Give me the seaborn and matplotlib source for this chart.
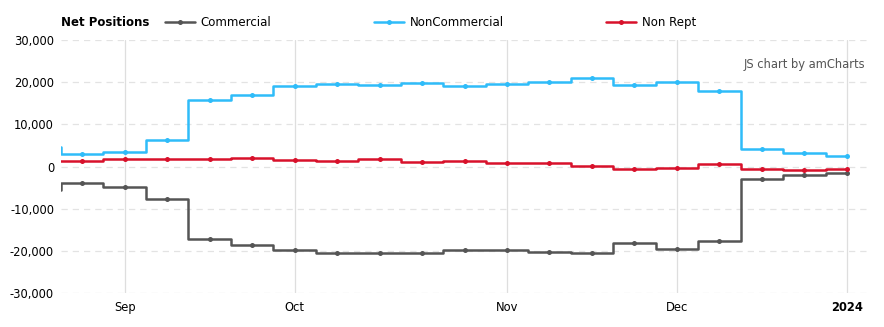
import matplotlib
matplotlib.use("Agg")
import matplotlib.pyplot as plt
import matplotlib.ticker as mticker
import seaborn as sns
import pandas as pd
import numpy as np

# Weekly report dates (first entry is the week before the visible range)
dates = ["2023-08-22", "2023-08-29", "2023-09-05", "2023-09-12", "2023-09-19", "2023-09-26",
         "2023-10-03", "2023-10-10", "2023-10-17", "2023-10-24", "2023-10-31",
         "2023-11-07", "2023-11-14", "2023-11-21", "2023-11-28",
         "2023-12-05", "2023-12-12", "2023-12-19", "2023-12-26", "2024-01-02"]
commercial = [-5600, -3900, -4800, -7700, -17100, -18500, -19900, -20600, -20600, -20400,
              -19900, -19900, -20200, -20600, -18100, -19500, -17700, -2900, -1900, -1500]
noncommercial = [4600, 2900, 3400, 6300, 15800, 17000, 19100, 19600, 19400, 19900,
                 19100, 19600, 20000, 21000, 19400, 20000, 17900, 4100, 3200, 2500]
nonrept = [1200, 1200, 1700, 1700, 1700, 2000, 1500, 1300, 1700, 1000,
           1300, 800, 800, 200, -600, -400, 600, -600, -800, -650]

series_names = ["Commercial", "NonCommercial", "Non Rept"]
series_colors = ["#555555", "#2fbcf9", "#d8112b"]

month_labels = ["Sep", "Oct", "Nov", "Dec", "2024"]
month_dates = ["2023-09-05", "2023-10-03", "2023-11-07", "2023-12-05", "2024-01-02"]
y_ticks = [-30000, -20000, -10000, 0, 10000, 20000, 30000]

# equally spaced category positions (first one sits just left of the view)
pos = np.arange(len(dates)) - 1
df = pd.DataFrame({"pos": pos, "date": dates, "Commercial": commercial,
                   "NonCommercial": noncommercial, "Non Rept": nonrept})
long = df.melt(id_vars=["pos", "date"], value_vars=series_names,
               var_name="series", value_name="value")

sns.set_theme(style="white")
plt.rcParams["font.family"] = ["DejaVu Sans"]

fig = plt.figure(figsize=(8.84, 3.27), dpi=100)
ax = fig.add_axes([61 / 884, 34 / 327, (868 - 61) / 884, (293 - 40) / 327])

for name, color in zip(series_names, series_colors):
    sub = long[long["series"] == name]
    sns.lineplot(data=sub, x="pos", y="value", ax=ax, color=color,
                 drawstyle="steps-mid", linewidth=1.8, label=name,
                 marker="o", markersize=3.6, markeredgewidth=0,
                 zorder=3, clip_on=True)

ax.set_xlim(-0.5, len(dates) - 1.5)
ax.set_ylim(-30000, 30000)
ax.set_yticks(y_ticks)
ax.yaxis.set_major_formatter(mticker.FuncFormatter(lambda v, p: f"{int(v):,}"))

date_to_pos = dict(zip(dates, pos))
ax.set_xticks([date_to_pos[d] for d in month_dates])
ax.set_xticklabels(month_labels)
ax.get_xticklabels()[-1].set_fontweight("bold")

ax.tick_params(axis="both", labelsize=8.3, colors="#000000", length=0)
ax.tick_params(axis="x", pad=6)
ax.tick_params(axis="y", pad=5)
ax.set_xlabel("")
ax.set_ylabel("")

for s in ax.spines.values():
    s.set_visible(False)

for yv in y_ticks:
    ax.axhline(yv, color="#e3e3e3", linewidth=0.9, linestyle=(0, (5, 4)), zorder=1)
for xv in ax.get_xticks():
    ax.axvline(xv, color="#dedede", linewidth=0.9, zorder=1)

leg = ax.legend(loc="lower left", bbox_to_anchor=(93 / 807, 1.0), ncol=3,
                frameon=False, fontsize=8.5, handlelength=2.6, handletextpad=0.45,
                columnspacing=8.65, borderaxespad=0.9, borderpad=0)
for t in leg.get_texts():
    t.set_color("#000000")

fig.text(61 / 884, 1 - 22 / 327, "Net Positions", fontsize=8.5, fontweight="bold",
         ha="left", va="center", color="#000000")
ax.text(0.997, 0.905, "JS chart by amCharts", transform=ax.transAxes, ha="right",
        va="center", fontsize=8.3, color="#555555")

fig.savefig("out.png", dpi=100)
